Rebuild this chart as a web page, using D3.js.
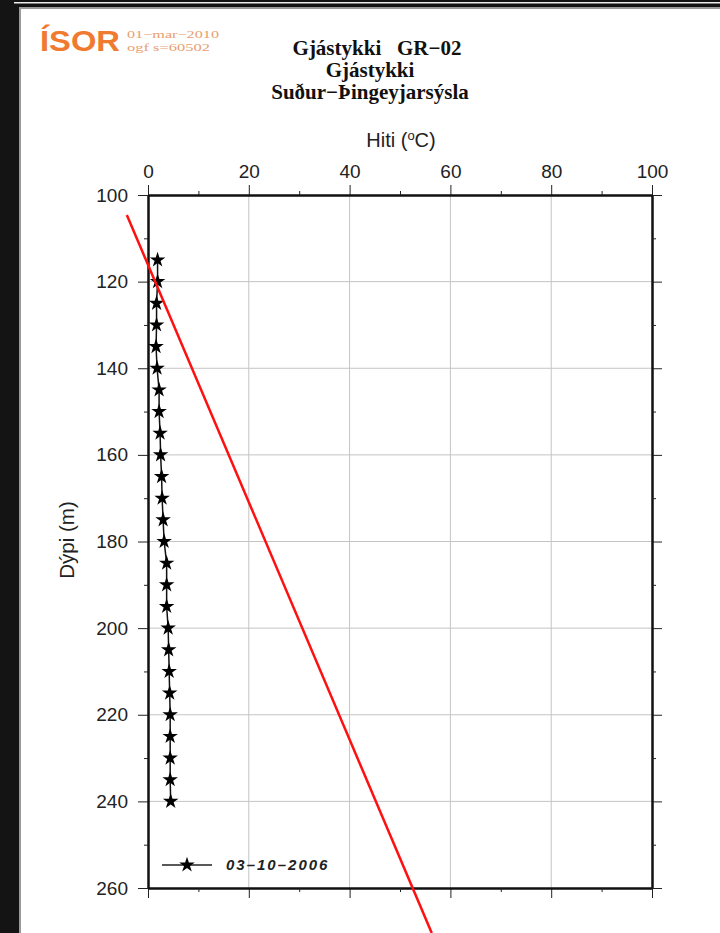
<!DOCTYPE html>
<html>
<head>
<meta charset="utf-8">
<script src="https://cdn.jsdelivr.net/npm/d3@7"></script>
<style>
  body { margin: 0; background: #141414; }
  svg { display: block; }
</style>
</head>
<body>
<svg id="chart"></svg>
<script>
// measured temperature profile, 03-10-2006
var depths = [115, 120, 125, 130, 135, 140, 145, 150, 155, 160, 165, 170, 175,
              180, 185, 190, 195, 200, 205, 210, 215, 220, 225, 230, 235, 240]
var temps = [1.9, 1.9, 1.7, 1.7, 1.6, 1.8, 2.2, 2.2, 2.4, 2.5, 2.7, 2.8, 3.0,
             3.2, 3.7, 3.7, 3.7, 4.0, 4.1, 4.2, 4.3, 4.4, 4.4, 4.4, 4.4, 4.5]
// red reference line (temp, depth) end points
var redTemps = [-4.2, 56.3]
var redDepths = [104.6, 270.4]

var xMajor = [0, 20, 40, 60, 80, 100]
var xMinor = [10, 30, 50, 70, 90]
var yMajor = [100, 120, 140, 160, 180, 200, 220, 240, 260]
var yMinor = [110, 130, 150, 170, 190, 210, 230, 250]

var titleLines = ["Gjástykki   GR\u221202", "Gjástykki", "Suður\u2212Þingeyjarsýsla"]
var legendLabel = "03\u201310\u20132006"

var width = 720;
var height = 933;
var pLeft = 148, pRight = 652, pTop = 195, pBottom = 888;

var svg = d3.select("#chart")
    .attr("width", width)
    .attr("height", height)

// page
svg.append("rect").attr("x", 0).attr("y", 0).attr("width", width).attr("height", height).attr("fill", "#141414")
svg.append("rect").attr("x", 14).attr("y", 2).attr("width", width - 14).attr("height", 1.5).attr("fill", "#eee")
svg.append("rect").attr("x", 19).attr("y", 7).attr("width", width - 19).attr("height", height - 7).attr("fill", "#9a9a9a")
svg.append("rect").attr("x", 21).attr("y", 9).attr("width", width - 21).attr("height", height - 9).attr("fill", "#fff")

var x = d3.scaleLinear().domain([0, 100]).range([pLeft, pRight]);
var y = d3.scaleLinear().domain([100, 260]).range([pTop, pBottom]);

// grid
svg.append("g").selectAll("line").data(xMajor.slice(1, -1)).enter().append("line")
    .attr("x1", function(d) { return x(d); }).attr("x2", function(d) { return x(d); })
    .attr("y1", pTop).attr("y2", pBottom)
    .attr("stroke", "#c4c4c4").attr("stroke-width", 1)
svg.append("g").selectAll("line").data(yMajor.slice(1, -1)).enter().append("line")
    .attr("x1", pLeft).attr("x2", pRight)
    .attr("y1", function(d) { return y(d); }).attr("y2", function(d) { return y(d); })
    .attr("stroke", "#c4c4c4").attr("stroke-width", 1)

// axes
function styleAxis(g) {
    g.select(".domain").attr("stroke", "#111").attr("stroke-width", 2);
    g.selectAll(".tick line").attr("stroke", "#222").attr("stroke-width", 1);
    g.selectAll("text").attr("font-family", "Liberation Sans, Arial, sans-serif")
        .attr("font-size", 19).attr("fill", "#222");
}

svg.append("g").attr("transform", "translate(0," + pTop + ")")
    .call(d3.axisTop(x).tickValues(xMajor).tickSize(10).tickSizeOuter(0).tickPadding(7).tickFormat(d3.format("d")))
    .call(styleAxis)
svg.append("g").attr("transform", "translate(0," + pTop + ")")
    .call(d3.axisTop(x).tickValues(xMinor).tickSize(4).tickSizeOuter(0).tickFormat(""))
    .call(styleAxis)
svg.append("g").attr("transform", "translate(0," + pBottom + ")")
    .call(d3.axisBottom(x).tickValues(xMajor).tickSize(10).tickSizeOuter(0).tickFormat(""))
    .call(styleAxis)
svg.append("g").attr("transform", "translate(0," + pBottom + ")")
    .call(d3.axisBottom(x).tickValues(xMinor).tickSize(4).tickSizeOuter(0).tickFormat(""))
    .call(styleAxis)
svg.append("g").attr("transform", "translate(" + pLeft + ",0)")
    .call(d3.axisLeft(y).tickValues(yMajor).tickSize(10).tickSizeOuter(0).tickPadding(10).tickFormat(d3.format("d")))
    .call(styleAxis)
svg.append("g").attr("transform", "translate(" + pLeft + ",0)")
    .call(d3.axisLeft(y).tickValues(yMinor).tickSize(4).tickSizeOuter(0).tickFormat(""))
    .call(styleAxis)
svg.append("g").attr("transform", "translate(" + pRight + ",0)")
    .call(d3.axisRight(y).tickValues(yMajor).tickSize(10).tickSizeOuter(0).tickFormat(""))
    .call(styleAxis)
svg.append("g").attr("transform", "translate(" + pRight + ",0)")
    .call(d3.axisRight(y).tickValues(yMinor).tickSize(4).tickSizeOuter(0).tickFormat(""))
    .call(styleAxis)

// profile
var profile = depths.map(function(d, i) { return [temps[i], d]; });
var line = d3.line()
    .x(function(d) { return x(d[0]); })
    .y(function(d) { return y(d[1]); });

svg.append("path").datum(profile)
    .attr("d", line).attr("fill", "none").attr("stroke", "#111").attr("stroke-width", 1.5)

var star = d3.symbol().type(d3.symbolStar).size(75);
svg.append("g").selectAll("path").data(profile).enter().append("path")
    .attr("d", star)
    .attr("transform", function(d) { return "translate(" + x(d[0]) + "," + y(d[1]) + ")"; })
    .attr("fill", "#000")

// red line
var red = redTemps.map(function(d, i) { return [d, redDepths[i]]; });
svg.append("path").datum(red)
    .attr("d", line).attr("fill", "none").attr("stroke", "#ff1010").attr("stroke-width", 2.5)

// legend
svg.append("line").attr("x1", 162).attr("x2", 212).attr("y1", 865).attr("y2", 865)
    .attr("stroke", "#222").attr("stroke-width", 1.5)
svg.append("path").attr("d", star).attr("transform", "translate(187,865)").attr("fill", "#000")
svg.append("text").attr("x", 226).attr("y", 870)
    .attr("font-family", "Liberation Sans, Arial, sans-serif").attr("font-size", 15)
    .attr("font-style", "italic").attr("font-weight", "bold").attr("letter-spacing", 2)
    .attr("fill", "#222")
    .text(legendLabel)

// axis titles
var hiti = svg.append("text").attr("x", 401).attr("y", 147).attr("text-anchor", "middle")
    .attr("font-family", "Liberation Sans, Arial, sans-serif").attr("font-size", 20).attr("fill", "#222")
hiti.append("tspan").text("Hiti (")
hiti.append("tspan").attr("font-size", 13).attr("dy", -7).text("o")
hiti.append("tspan").attr("dy", 7).text("C)")
svg.append("text").attr("transform", "translate(74,540) rotate(-90)").attr("text-anchor", "middle")
    .attr("font-family", "Liberation Sans, Arial, sans-serif").attr("font-size", 20.5).attr("fill", "#222")
    .text("Dýpi (m)")

// title
svg.append("g").selectAll("text").data(titleLines).enter().append("text")
    .attr("x", function(d, i) { return i === 0 ? 377 : 370; })
    .attr("y", function(d, i) { return 55 + i * 22; })
    .attr("text-anchor", "middle")
    .attr("font-family", "Liberation Serif, Times New Roman, serif").attr("font-weight", "bold")
    .attr("font-size", 21).attr("fill", "#111")
    .attr("xml:space", "preserve").style("white-space", "pre")
    .text(function(d) { return d; })

// logo
svg.append("text").attr("x", 40).attr("y", 51)
    .attr("font-family", "Liberation Sans, Arial, sans-serif").attr("font-weight", "bold")
    .attr("font-size", 29).attr("fill", "#f07a30")
    .attr("textLength", 80).attr("lengthAdjust", "spacingAndGlyphs")
    .text("ÍSOR")
svg.append("text").attr("x", 127).attr("y", 38)
    .attr("font-family", "Liberation Serif, Times New Roman, serif").attr("font-size", 11).attr("fill", "#e8a070")
    .attr("textLength", 92).attr("lengthAdjust", "spacingAndGlyphs")
    .text("01\u2212mar\u22122010")
svg.append("text").attr("x", 127).attr("y", 51)
    .attr("font-family", "Liberation Serif, Times New Roman, serif").attr("font-size", 11).attr("fill", "#e8a070")
    .attr("textLength", 83).attr("lengthAdjust", "spacingAndGlyphs")
    .text("ogf s=60502")
</script>
</body>
</html>
